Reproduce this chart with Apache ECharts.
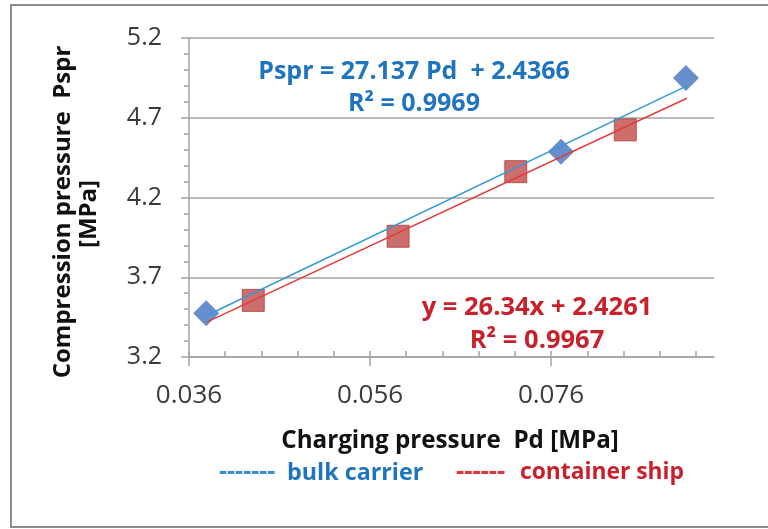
<!DOCTYPE html>
<html><head><meta charset="utf-8">
<script src="https://cdn.jsdelivr.net/npm/echarts@6/dist/echarts.min.js"></script>
<style>html,body{margin:0;padding:0;background:#fff}#c{width:768px;height:529px}</style>
</head><body><div id="c"></div>
<script>
// ---- data ----
const bulkX = [0.0379, 0.0771, 0.0909];
const bulkY = [3.475, 4.487, 4.949];
const contX = [0.0431, 0.0591, 0.0721, 0.0842];
const contY = [3.555, 3.957, 4.362, 4.624];
const trendX = [0.0380, 0.0910];
const bulkTrendY = [3.462, 4.900];
const contTrendY = [3.420, 4.822];
const xTickLabels = [0.036, 0.056, 0.076];
const xMinorTicks = [0.040, 0.044, 0.048, 0.052, 0.060, 0.064, 0.068, 0.072, 0.080, 0.084, 0.088, 0.092];
const bulkEq = 'Pspr = 27.137 Pd  + 2.4366';
const bulkR2 = 'R² = 0.9969';
const contEq = 'y = 26.34x + 2.4261';
const contR2 = 'R² = 0.9967';
const xTitle = 'Charging pressure  Pd [MPa]';
const yTitle1 = 'Compression pressure  Pspr';
const yTitle2 = '[MPa]';
const legendBulk = 'bulk carrier';
const legendCont = 'container ship';

const pair = (xs, ys) => xs.map((x, i) => [x, ys[i]]);
const gray = '#a3a3a3';
const fontFam = '"Open Sans", Lato, sans-serif';
const bold = size => 'bold ' + size + 'px ' + fontFam;

const chart = echarts.init(document.getElementById('c'));
chart.setOption({
  backgroundColor: '#fff',
  animation: false,
  grid: { left: 189, right: 54, top: 38, bottom: 172 },
  xAxis: [{
    type: 'value', min: 0.036, max: 0.094, position: 'bottom',
    axisLine: { show: true, lineStyle: { color: gray, width: 1.5 } },
    axisTick: { show: true, customValues: xTickLabels, length: 9, lineStyle: { color: gray, width: 1.5 } },
    axisLabel: { show: true, customValues: xTickLabels, formatter: v => v.toFixed(3), margin: 26,
      color: '#3a3a3a', fontSize: 26, fontFamily: fontFam },
    splitLine: { show: false }
  }, {
    type: 'value', min: 0.036, max: 0.094, position: 'bottom',
    axisLine: { show: false },
    axisTick: { show: true, inside: true, customValues: xTickLabels.concat(xMinorTicks), length: 6, lineStyle: { color: gray, width: 1.5 } },
    axisLabel: { show: false },
    splitLine: { show: false }
  }],
  yAxis: {
    type: 'value', min: 3.2, max: 5.2, interval: 0.5,
    axisLine: { show: true, lineStyle: { color: gray, width: 1.5 } },
    axisTick: { show: true, length: 8, lineStyle: { color: gray, width: 1.5 } },
    minorTick: { show: true, splitNumber: 5, length: 5, lineStyle: { color: gray, width: 1.5 } },
    axisLabel: { formatter: v => v.toFixed(1), margin: 27, color: '#3a3a3a', fontSize: 25, fontFamily: fontFam },
    splitLine: { show: true, lineStyle: { color: gray, width: 1.5 } }
  },
  series: [
    { name: 'bulk carrier', type: 'scatter', symbol: 'diamond', symbolSize: 26,
      itemStyle: { color: '#4472c0' }, data: pair(bulkX, bulkY), z: 2 },
    { name: 'container ship', type: 'scatter', symbol: 'rect', symbolSize: 22,
      itemStyle: { color: '#bf4a47', borderColor: '#ad3d3a', borderWidth: 1 }, data: pair(contX, contY), z: 2 },
    { type: 'line', data: pair(trendX, bulkTrendY), showSymbol: false, symbol: 'none',
      lineStyle: { color: '#3597dc', width: 1.5 }, z: 3 },
    { type: 'line', data: pair(trendX, contTrendY), showSymbol: false, symbol: 'none',
      lineStyle: { color: '#e23c3c', width: 1.5 }, z: 3 }
  ],
  graphic: [
    { type: 'rect', shape: { x: 11, y: 5, width: 790, height: 522 }, style: { fill: 'transparent', stroke: '#8c8c8c', lineWidth: 2 }, z: -10 },
    { type: 'text', x: 414, y: 72, style: { text: bulkEq, fill: '#1f74c0', font: bold(25), align: 'center', verticalAlign: 'middle' } },
    { type: 'text', x: 414, y: 104, style: { text: bulkR2, fill: '#1f74c0', font: bold(25), align: 'center', verticalAlign: 'middle' } },
    { type: 'text', x: 537, y: 308, style: { text: contEq, fill: '#c8212b', font: bold(25.5), align: 'center', verticalAlign: 'middle' } },
    { type: 'text', x: 537, y: 341, style: { text: contR2, fill: '#c8212b', font: bold(25.5), align: 'center', verticalAlign: 'middle' } },
    { type: 'text', x: 450, y: 441, style: { text: xTitle, fill: '#111', font: bold(24.2), align: 'center', verticalAlign: 'middle' } },
    { type: 'text', x: 63, y: 212, rotation: Math.PI / 2, style: { text: yTitle1, fill: '#111', font: bold(24), align: 'center', verticalAlign: 'middle' } },
    { type: 'text', x: 89, y: 214, rotation: Math.PI / 2, style: { text: yTitle2, fill: '#111', font: bold(24), align: 'center', verticalAlign: 'middle' } },
    { type: 'text', x: 219, y: 472, style: { text: '-------', fill: '#3a8fdc', font: bold(25), align: 'left', verticalAlign: 'middle' } },
    { type: 'text', x: 287, y: 473, style: { text: legendBulk, fill: '#1f74c0', font: bold(23.3), align: 'left', verticalAlign: 'middle' } },
    { type: 'text', x: 456, y: 472, style: { text: '------', fill: '#e0353a', font: bold(25.5), align: 'left', verticalAlign: 'middle' } },
    { type: 'text', x: 520, y: 473, style: { text: legendCont, fill: '#c8212b', font: bold(22.8), align: 'left', verticalAlign: 'middle' } }
  ]
});
</script>
</body></html>
